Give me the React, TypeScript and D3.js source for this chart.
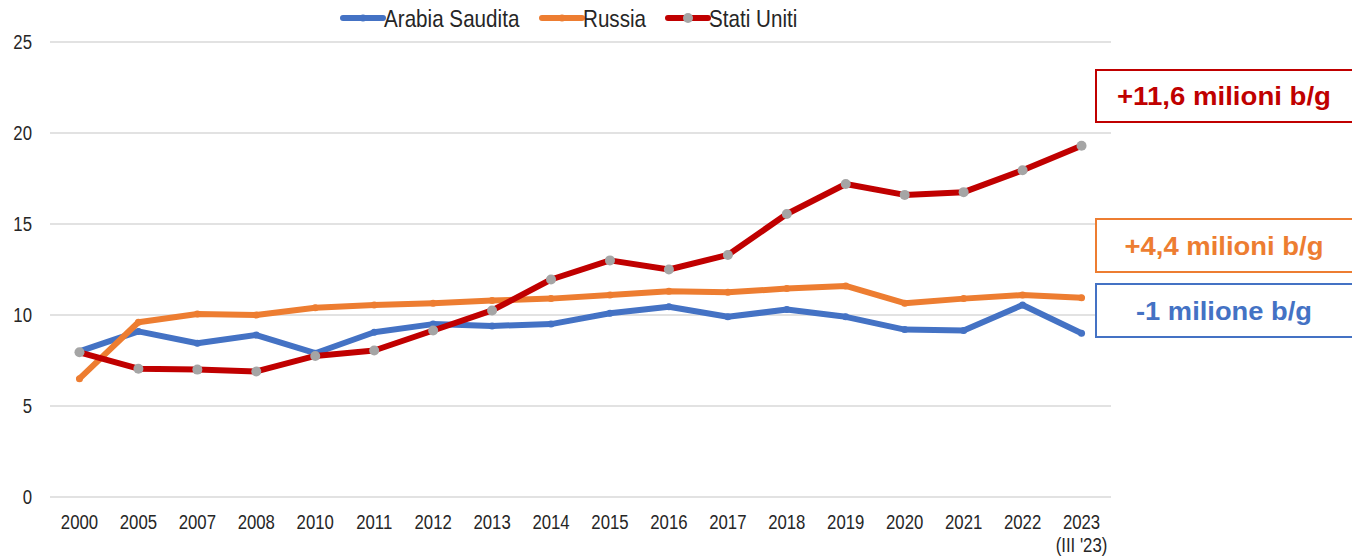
import React from "react";
import * as d3 from "d3";

const categories = ["2000","2005","2007","2008","2010","2011","2012","2013","2014","2015","2016","2017","2018","2019","2020","2021","2022","2023"];
const categorySub = ["","","","","","","","","","","","","","","","","","(III '23)"];
const arabiaSaudita = [8.0,9.1,8.45,8.9,7.9,9.05,9.5,9.4,9.5,10.1,10.45,9.9,10.3,9.9,9.2,9.15,10.55,9.0];
const russia = [6.5,9.6,10.05,10.0,10.4,10.55,10.65,10.8,10.9,11.1,11.3,11.25,11.45,11.6,10.65,10.9,11.1,10.95];
const statiUniti = [7.95,7.05,7.0,6.9,7.75,8.05,9.15,10.25,11.95,13.0,12.5,13.3,15.55,17.2,16.6,16.75,17.95,19.3];
const yTicks = [0,5,10,15,20,25];
const seriesNames = ["Arabia Saudita","Russia","Stati Uniti"];
const annotations = ["+11,6 milioni b/g","+4,4 milioni b/g","-1 milione b/g"];

const FONT = "'Liberation Sans', Arial, sans-serif";
const SX = 0.86;

export default function App() {
  const W = 1352, H = 556;
  const x = d3.scaleBand<string>().domain(categories).range([50, 1111]);
  const y = d3.scaleLinear().domain([0, 25]).range([497, 42]);
  const cx = (c: string) => (x(c) as number) + x.bandwidth() / 2;

  const series = [
    { name: seriesNames[0], values: arabiaSaudita, color: "#4472C4", marker: "#4472C4", r: 3.5 },
    { name: seriesNames[1], values: russia, color: "#ED7D31", marker: "#ED7D31", r: 3.5 },
    { name: seriesNames[2], values: statiUniti, color: "#C00000", marker: "#A5A5A5", r: 5 },
  ];

  const line = d3.line<number>().x((_, i) => cx(categories[i])).y((v) => y(v));

  const legendX = [343, 542, 668];
  const boxes = [
    { text: annotations[0], color: "#C00000", top: 70, bottom: 122, tl: 214 },
    { text: annotations[1], color: "#ED7D31", top: 219, bottom: 272, tl: 199 },
    { text: annotations[2], color: "#4472C4", top: 284, bottom: 337, tl: 176 },
  ];
  const textColor = "#262626";

  return (
    <svg width={W} height={H} style={{ position: "absolute", left: 0, top: 0, background: "#fff" }} fontFamily={FONT}>
      {yTicks.map((t) => (
        <g key={t}>
          <line x1={50} x2={1111} y1={y(t)} y2={y(t)} stroke="#D9D9D9" strokeWidth={1.5} />
          <text transform={`translate(32,${y(t)}) scale(${SX},1)`} textAnchor="end" dy="0.35em" fontSize={19.5} fill={textColor}>{t}</text>
        </g>
      ))}
      {categories.map((c, i) => (
        <g key={c}>
          <text transform={`translate(${cx(c)},529) scale(${SX},1)`} textAnchor="middle" fontSize={19.5} fill={textColor}>{c}</text>
          {categorySub[i] && (
            <text transform={`translate(${cx(c)},552) scale(${SX},1)`} textAnchor="middle" fontSize={19.5} fill={textColor}>{categorySub[i]}</text>
          )}
        </g>
      ))}
      {series.map((s) => (
        <g key={s.name}>
          <path d={line(s.values) as string} fill="none" stroke={s.color} strokeWidth={6} strokeLinejoin="round" strokeLinecap="round" />
          {s.values.map((v, i) => (
            <circle key={i} cx={cx(categories[i])} cy={y(v)} r={s.r} fill={s.marker} />
          ))}
        </g>
      ))}
      {series.map((s, i) => (
        <g key={"lg" + s.name}>
          <line x1={legendX[i]} x2={legendX[i] + 40} y1={18} y2={18} stroke={s.color} strokeWidth={6} strokeLinecap="round" />
          <circle cx={legendX[i] + 20} cy={18} r={s.r} fill={s.marker} />
          <text transform={`translate(${legendX[i] + 41},27) scale(${SX},1)`} fontSize={24} fill={textColor}>{s.name}</text>
        </g>
      ))}
      {boxes.map((b) => (
        <g key={b.text}>
          <rect x={1096} y={b.top} width={280} height={b.bottom - b.top} fill="#fff" stroke={b.color} strokeWidth={2} />
          <text x={1224} y={(b.top + b.bottom) / 2} dy="0.36em" textAnchor="middle" fontSize={26} fontWeight="bold" fill={b.color} textLength={b.tl} lengthAdjust="spacingAndGlyphs">{b.text}</text>
        </g>
      ))}
    </svg>
  );
}
